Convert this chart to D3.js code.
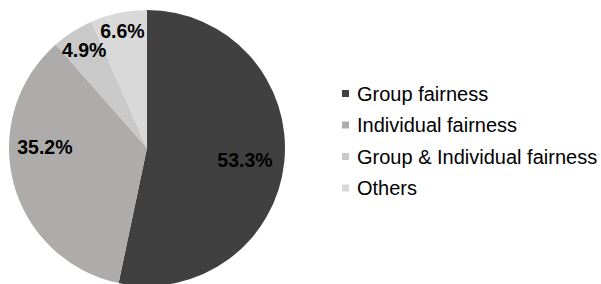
<!DOCTYPE html>
<html>
<head>
<meta charset="utf-8">
<script src="https://cdn.jsdelivr.net/npm/d3@7"></script>
<style>
  html, body { margin: 0; padding: 0; background: #fff; }
  svg { display: block; }
</style>
</head>
<body>
<div id="chart"></div>
<script>
const categories = ['Group fairness', 'Individual fairness', 'Group & Individual fairness', 'Others'];
const shares = [53.3, 35.2, 4.9, 6.6];
const sliceColors = ['#404040', '#aeabab', '#c9c9c9', '#d9d9d9'];
// label placement tweaks (fraction of radius, angle nudge in degrees)
const labelRadius = [0.715, 0.74, 0.845, 0.867];
const labelNudge = [1, 15, 0, 0];

const width = 601, height = 284;
const cx = 147, cy = 148, radius = 138;
const font = "'Liberation Sans', Arial, sans-serif";

const svg = d3.select('#chart')
  .append('svg')
  .attr('width', width)
  .attr('height', height);

const data = categories.map((c, i) => ({
  name: c, value: shares[i], color: sliceColors[i], lr: labelRadius[i], nudge: labelNudge[i]
}));

const pie = d3.pie().sort(null).value((d) => d.value);
const arc = d3.arc().innerRadius(0).outerRadius(radius);

const g = svg.append('g').attr('transform', `translate(${cx},${cy})`);

const arcs = pie(data);

g.selectAll('path.slice')
  .data(arcs)
  .enter()
  .append('path')
  .attr('class', 'slice')
  .attr('d', arc)
  .attr('fill', (d) => d.data.color);

// Percent labels
g.selectAll('text.pct')
  .data(arcs)
  .enter()
  .append('text')
  .attr('class', 'pct')
  .attr('transform', (d) => {
    const a = (d.startAngle + d.endAngle) / 2 + (d.data.nudge * Math.PI) / 180;
    const r = radius * d.data.lr;
    return `translate(${r * Math.sin(a)},${-r * Math.cos(a)})`;
  })
  .attr('text-anchor', 'middle')
  .attr('dy', '0.35em')
  .attr('font-family', font)
  .attr('font-weight', 'bold')
  .attr('font-size', '19.5px')
  .attr('fill', '#000')
  .text((d) => d.data.value.toFixed(1) + '%');

// Legend
const legend = svg.append('g').attr('transform', 'translate(342,93.5)');
const rowH = 31.5;

const items = legend.selectAll('g.item')
  .data(data)
  .enter()
  .append('g')
  .attr('class', 'item')
  .attr('transform', (d, i) => `translate(0,${i * rowH})`);

items.append('rect')
  .attr('x', 0)
  .attr('y', -3.5)
  .attr('width', 7)
  .attr('height', 7)
  .attr('fill', (d) => d.color);

items.append('text')
  .attr('x', 15)
  .attr('y', 0)
  .attr('dy', '0.35em')
  .attr('font-family', font)
  .attr('font-size', '20px')
  .attr('fill', '#000')
  .text((d) => d.name);
</script>
</body>
</html>
